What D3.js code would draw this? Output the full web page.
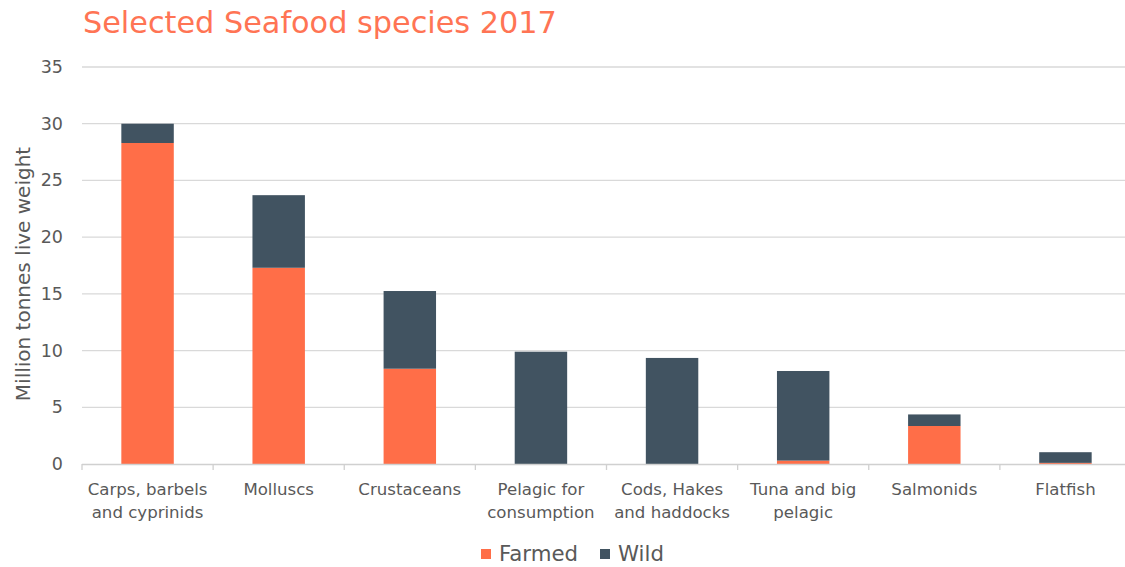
<!DOCTYPE html>
<html><head><meta charset="utf-8">
<script src="https://cdn.jsdelivr.net/npm/d3@7"></script>
<style>body{margin:0;background:#fff}svg{display:block}text{font-family:"DejaVu Sans",sans-serif}</style>
</head><body>
<svg id="c" width="1125" height="567"></svg>
<script>
const categories = [["Carps, barbels","and cyprinids"],["Molluscs"],["Crustaceans"],["Pelagic for","consumption"],["Cods, Hakes","and haddocks"],["Tuna and big","pelagic"],["Salmonids"],["Flatfish"]];
const farmed = [28.3, 17.3, 8.4, 0, 0, 0.3, 3.35, 0.1];
const wild = [1.7, 6.4, 6.85, 9.9, 9.35, 7.9, 1.02, 0.94];
const yTicks = [0,5,10,15,20,25,30,35];
const seriesNames = ["Farmed","Wild"];
const colors = ["#FF6E48","#415361"];

const svg = d3.select("#c");
const x0 = 82, x1 = 1131, yTop = 67, yBot = 464;
const x = d3.scaleBand().domain(d3.range(categories.length)).range([x0,x1]).paddingInner(0.6).paddingOuter(0.3);
const xb = d3.scaleBand().domain(d3.range(categories.length)).range([x0,x1]);
const y = d3.scaleLinear().domain([0,35]).range([yBot,yTop]);

// gridlines
svg.append("g").selectAll("line").data(yTicks.filter(d=>d>0)).join("line")
  .attr("x1",x0).attr("x2",1125).attr("y1",d=>y(d)).attr("y2",d=>y(d))
  .attr("stroke","#d9d9d9").attr("stroke-width",1.3);

// y labels
svg.append("g").selectAll("text").data(yTicks).join("text")
  .attr("x",63).attr("y",d=>y(d)+6).attr("text-anchor","end")
  .attr("fill","#595959").attr("font-size",17.5).text(d=>d);

// bars
const stack = d3.stack().keys([0,1]).value((d,k)=>k===0?farmed[d]:wild[d]);
const layers = stack(d3.range(categories.length));
svg.append("g").selectAll("g").data(layers).join("g").attr("fill",(d,i)=>colors[i])
  .selectAll("rect").data(d=>d).join("rect")
  .attr("x",d=>x(d.data)).attr("width",x.bandwidth())
  .attr("y",d=>y(d[1])).attr("height",d=>Math.max(0,y(d[0])-y(d[1])));

// x axis
svg.append("line").attr("x1",x0).attr("x2",1125).attr("y1",yBot+0.5).attr("y2",yBot+0.5).attr("stroke","#d0d0d0").attr("stroke-width",1.3);
svg.append("g").selectAll("line").data(d3.range(categories.length+1)).join("line")
  .attr("x1",d=>x0+d*xb.bandwidth()).attr("x2",d=>x0+d*xb.bandwidth())
  .attr("y1",yBot).attr("y2",yBot+6).attr("stroke","#d0d0d0").attr("stroke-width",1.3);

const lab = svg.append("g").selectAll("text").data(categories).join("text")
  .attr("x",(d,i)=>xb(i)+xb.bandwidth()/2).attr("y",495).attr("text-anchor","middle")
  .attr("fill","#595959").attr("font-size",16.6);
lab.selectAll("tspan").data(d=>d).join("tspan")
  .attr("x",function(){return this.parentNode.getAttribute("x");})
  .attr("dy",(d,i)=>i===0?0:23).text(d=>d);

// y title
svg.append("text").attr("transform","translate(30,274) rotate(-90)").attr("text-anchor","middle")
  .attr("fill","#595959").attr("font-size",20).text("Million tonnes live weight");

// title
svg.append("text").attr("x",83).attr("y",33).attr("fill","#FF7454").attr("font-size",30.3)
  .text("Selected Seafood species 2017");

// legend
const legX = [481, 600];
const lg = svg.append("g").selectAll("g").data(seriesNames).join("g")
  .attr("transform",(d,i)=>`translate(${legX[i]},549)`);
lg.append("rect").attr("width",10).attr("height",10).attr("fill",(d,i)=>colors[i]);
lg.append("text").attr("x",18).attr("y",12).attr("fill","#595959").attr("font-size",21.3).text(d=>d);
</script>
</body></html>
